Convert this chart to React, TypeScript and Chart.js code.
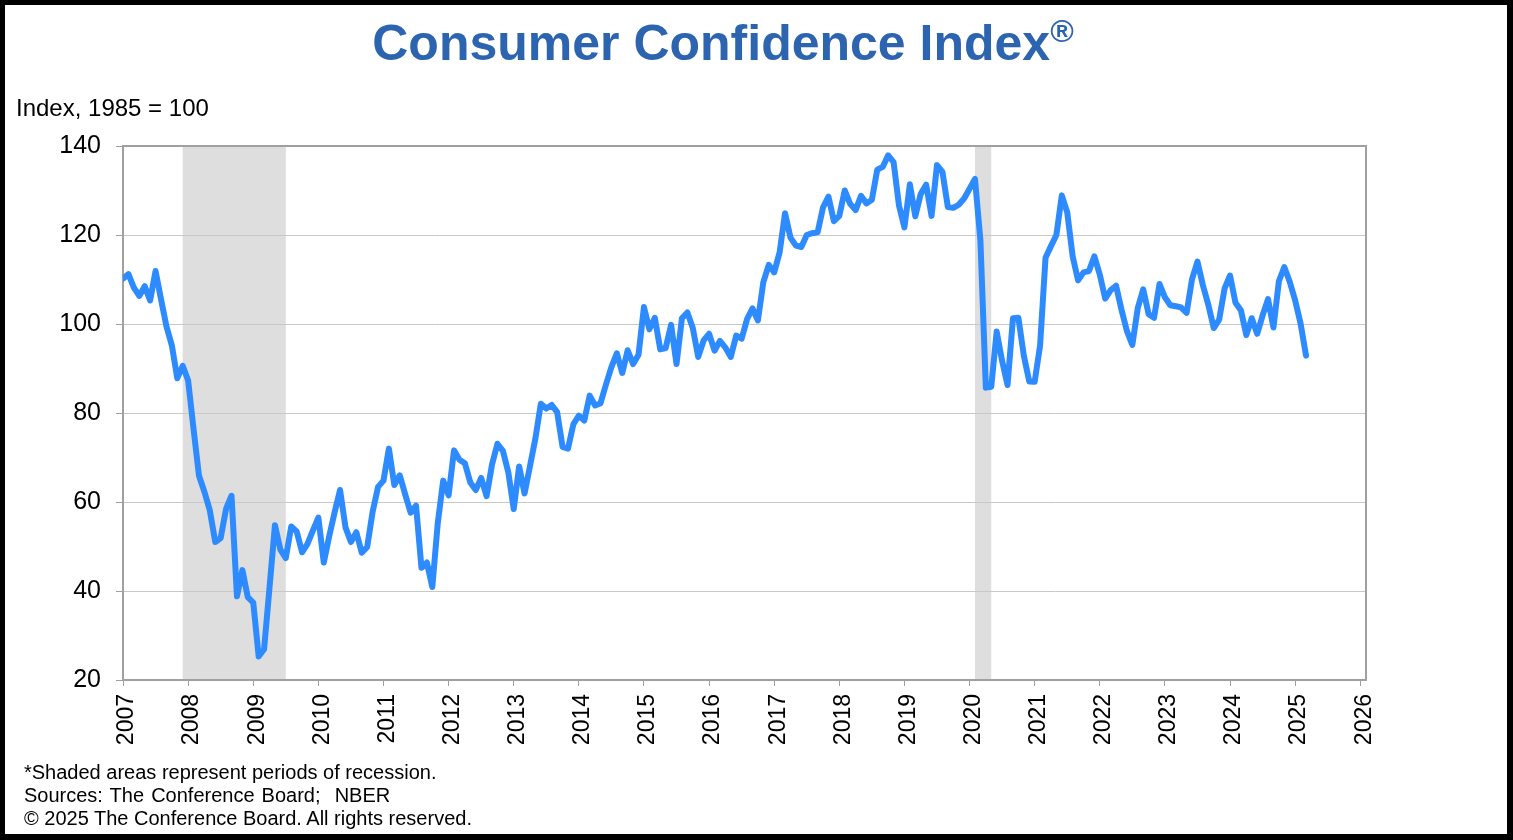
import { useEffect, useRef } from "react";
import { Chart, registerables } from "chart.js";

Chart.register(...registerables);

// Consumer Confidence Index, monthly, Jan 2007 - Mar 2025 (1985 = 100)
const startYear = 2007;
const cci = [
  // 2007
  110.2, 111.2, 108.2, 106.3, 108.5, 105.3, 111.9, 105.6, 99.5, 95.2, 87.8, 90.6,
  // 2008
  87.3, 76.4, 65.9, 62.3, 58.1, 51.0, 51.9, 58.5, 61.4, 38.8, 44.7, 38.6,
  // 2009
  37.4, 25.3, 26.9, 40.8, 54.8, 49.3, 47.4, 54.5, 53.4, 48.7, 50.6, 53.6,
  // 2010
  56.5, 46.4, 52.3, 57.7, 62.7, 54.3, 51.0, 53.2, 48.6, 49.9, 57.8, 63.4,
  // 2011
  64.8, 72.0, 63.8, 66.0, 61.7, 57.6, 59.2, 45.2, 46.4, 40.9, 55.2, 64.8,
  // 2012
  61.5, 71.6, 69.5, 68.7, 64.4, 62.7, 65.4, 61.3, 68.4, 73.1, 71.5, 66.7,
  // 2013
  58.4, 68.0, 61.9, 68.1, 74.3, 82.1, 81.0, 81.8, 80.2, 72.4, 72.0, 77.5,
  // 2014
  79.4, 78.3, 83.9, 81.7, 82.2, 86.4, 90.3, 93.4, 89.0, 94.1, 91.0, 93.1,
  // 2015
  103.8, 98.8, 101.4, 94.3, 94.6, 99.8, 91.0, 101.3, 102.6, 99.1, 92.6, 96.3,
  // 2016
  97.8, 94.0, 96.2, 94.7, 92.6, 97.4, 96.7, 101.1, 103.5, 100.8, 109.4, 113.3,
  // 2017
  111.6, 116.1, 124.9, 119.4, 117.6, 117.3, 120.0, 120.4, 120.6, 126.2, 128.6, 123.1,
  // 2018
  124.3, 130.0, 127.0, 125.6, 128.8, 127.1, 127.9, 134.7, 135.3, 137.9, 136.4, 126.6,
  // 2019
  121.7, 131.4, 124.2, 129.2, 131.3, 124.3, 135.7, 134.2, 126.3, 126.1, 126.8, 128.2,
  // 2020
  130.4, 132.6, 118.8, 85.7, 85.9, 98.3, 91.7, 86.3, 101.3, 101.4, 92.9, 87.1,
  // 2021
  87.0, 95.2, 114.9, 117.5, 120.0, 128.9, 125.1, 115.2, 109.8, 111.6, 111.9, 115.2,
  // 2022
  111.1, 105.7, 107.6, 108.6, 103.2, 98.4, 95.3, 103.6, 107.8, 102.2, 101.4, 109.0,
  // 2023
  106.0, 104.2, 104.0, 103.7, 102.5, 110.1, 114.0, 108.7, 104.3, 99.1, 101.0, 108.0,
  // 2024
  110.9, 104.8, 103.1, 97.5, 101.3, 97.8, 101.9, 105.6, 99.2, 109.6, 112.8, 109.5,
  // 2025
  105.3, 100.1, 92.9,
];

// NBER recessions, [first month, month after last] as "YYYY-MM"
const recessions = [
  ["2007-12", "2009-07"],
  ["2020-02", "2020-05"],
];

const yearTicks = [
  2007, 2008, 2009, 2010, 2011, 2012, 2013, 2014, 2015, 2016, 2017, 2018, 2019,
  2020, 2021, 2022, 2023, 2024, 2025, 2026,
];
const yTicks = [20, 40, 60, 80, 100, 120, 140];

const toYear = (ym: string) => {
  const [y, m] = ym.split("-").map(Number);
  return y + (m - 1) / 12;
};

const FONT = "'Liberation Sans', Arial, sans-serif";

const recessionShade = {
  id: "recessionShade",
  beforeDraw(chart: any) {
    const { ctx, chartArea, scales } = chart;
    ctx.save();
    ctx.fillStyle = "#dedede";
    recessions.forEach(([a, b]) => {
      const x1 = scales.x.getPixelForValue(toYear(a));
      const x2 = scales.x.getPixelForValue(toYear(b));
      ctx.fillRect(x1, chartArea.top, x2 - x1, chartArea.bottom - chartArea.top);
    });
    ctx.restore();
  },
};

const plotFrame = {
  id: "plotFrame",
  beforeDatasetsDraw(chart: any) {
    const { ctx, chartArea } = chart;
    ctx.save();
    ctx.strokeStyle = "#a0a0a0";
    ctx.lineWidth = 2;
    ctx.strokeRect(
      chartArea.left,
      chartArea.top,
      chartArea.right - chartArea.left,
      chartArea.bottom - chartArea.top
    );
    ctx.restore();
  },
};

const CciChart = () => {
  const canvasRef = useRef<HTMLCanvasElement | null>(null);

  useEffect(() => {
    const ctx = canvasRef.current!.getContext("2d")!;
    const chart = new Chart(ctx, {
      type: "line",
      data: {
        datasets: [
          {
            label: "Consumer Confidence Index",
            data: cci.map((v, i) => ({ x: startYear + i / 12, y: v })),
            borderColor: "#2d8bff",
            borderWidth: 6,
            pointRadius: 0,
            tension: 0,
            fill: false,
            borderJoinStyle: "round",
            borderCapStyle: "round",
          },
        ],
      },
      options: {
        animation: false,
        responsive: false,
        devicePixelRatio: 1,
        layout: { padding: { top: 146, right: 147, left: 0, bottom: 0 } },
        plugins: {
          legend: { display: false },
          tooltip: { enabled: false },
        },
        scales: {
          x: {
            type: "linear",
            min: 2007,
            max: 2026.088,
            afterBuildTicks: (scale: any) => {
              scale.ticks = yearTicks.map((v) => ({ value: v }));
            },
            afterFit: (scale: any) => {
              scale.height = 160;
            },
            ticks: {
              autoSkip: false,
              minRotation: 90,
              maxRotation: 90,
              padding: 8,
              labelOffset: 4,
              color: "#000",
              font: { family: FONT, size: 23 },
              callback: (v: any) => String(v),
            },
            grid: {
              drawOnChartArea: false,
              drawTicks: true,
              tickLength: 6,
              color: "#a0a0a0",
              lineWidth: 1,
            },
            border: { color: "#a0a0a0", width: 2 },
          },
          y: {
            min: 20,
            max: 140,
            afterBuildTicks: (scale: any) => {
              scale.ticks = yTicks.map((v) => ({ value: v }));
            },
            afterFit: (scale: any) => {
              scale.width = 123;
            },
            ticks: {
              padding: 15,
              color: "#000",
              font: { family: FONT, size: 25 },
            },
            grid: {
              color: "#c8c8c8",
              lineWidth: 1,
              drawTicks: true,
              tickLength: 7,
              tickColor: "#a0a0a0",
            },
            border: { color: "#a0a0a0", width: 2 },
          },
        },
      },
      plugins: [recessionShade, plotFrame],
    });
    return () => {
      chart.destroy();
    };
  }, []);

  return (
    <canvas
      ref={canvasRef}
      width={1513}
      height={840}
      style={{ position: "absolute", left: 0, top: 0, width: 1513, height: 840 }}
    />
  );
};

export default function App() {
  return (
    <div
      style={{
        position: "absolute",
        left: 0,
        top: 0,
        width: 1513,
        height: 840,
        background: "#fff",
        fontFamily: FONT,
        overflow: "hidden",
      }}
    >
      <CciChart />
      <div
        style={{
          position: "absolute",
          left: 0,
          top: 18,
          width: 1446,
          textAlign: "center",
          color: "#2c64b0",
          fontWeight: "bold",
          fontSize: 50,
          lineHeight: 1,
        }}
      >
        Consumer Confidence Index
        <span style={{ fontSize: 32, verticalAlign: "top", position: "relative", top: -3 }}>®</span>
      </div>
      <div
        style={{ position: "absolute", left: 16, top: 96, fontSize: 24, lineHeight: 1, color: "#000" }}
      >
        Index, 1985 = 100
      </div>
      <div
        style={{ position: "absolute", left: 24, top: 761, fontSize: 20, lineHeight: "23px", color: "#000" }}
      >
        <div>*Shaded areas represent periods of recession.</div>
        <div style={{ wordSpacing: 1.5 }}>Sources: The Conference Board;&nbsp; NBER</div>
        <div>© 2025 The Conference Board. All rights reserved.</div>
      </div>
      <div
        style={{
          position: "absolute",
          inset: 0,
          borderStyle: "solid",
          borderColor: "#000",
          borderWidth: "5px 6px 6px 5px",
          boxSizing: "border-box",
          pointerEvents: "none",
        }}
      />
    </div>
  );
}
